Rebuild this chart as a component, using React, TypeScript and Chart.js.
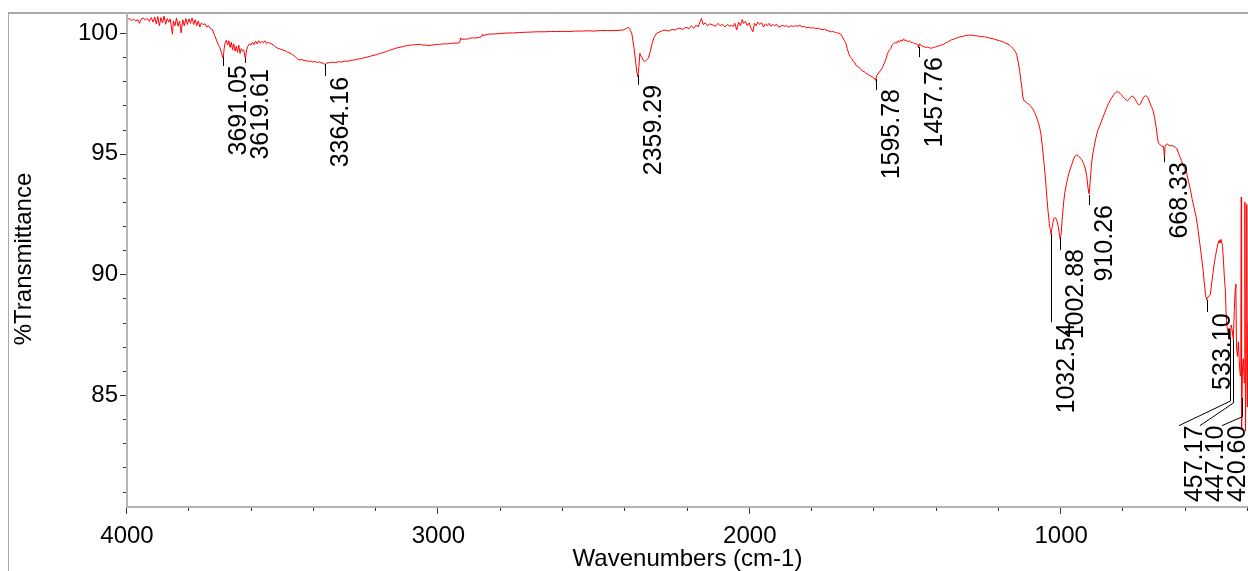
import React, { useEffect, useRef } from "react";
import { Chart, registerables } from "chart.js";

Chart.register(...registerables);

// [wavenumber (cm-1), %Transmittance]
const spectrum: [number, number][] = [
  [4000, 100.55], [3993, 100.6], [3986, 100.52], [3979, 100.57], [3972, 100.5], [3965, 100.55],
  [3960, 100.4], [3955, 100.56], [3948, 100.62], [3941, 100.55], [3934, 100.6], [3928, 100.48],
  [3922, 100.64], [3916, 100.45], [3911, 100.66], [3906, 100.38], [3901, 100.68], [3896, 100.3],
  [3891, 100.64], [3886, 100.42], [3881, 100.7], [3876, 100.36], [3871, 100.6], [3866, 100.45],
  [3861, 100.58], [3857, 100.2], [3854, 99.95], [3851, 100.5], [3846, 100.3], [3841, 100.62],
  [3836, 100.28], [3831, 100.5], [3826, 100.0], [3821, 100.55], [3816, 100.3], [3811, 100.6],
  [3806, 100.35], [3801, 100.58], [3796, 100.4], [3791, 100.62], [3786, 100.35], [3781, 100.55],
  [3776, 100.3], [3771, 100.5], [3766, 100.25], [3761, 100.42], [3756, 100.35], [3750, 100.38],
  [3744, 100.25], [3738, 100.3], [3732, 100.18], [3726, 100.15], [3720, 99.95], [3714, 99.75],
  [3708, 99.55], [3702, 99.4], [3697, 99.2], [3694, 99.05], [3691, 98.96], [3688, 99.35],
  [3685, 99.58], [3681, 99.7], [3677, 99.5], [3673, 99.68], [3669, 99.4], [3665, 99.62],
  [3661, 99.3], [3657, 99.55], [3653, 99.25], [3649, 99.45], [3645, 99.2], [3641, 99.5],
  [3637, 99.15], [3633, 99.35], [3629, 99.25], [3625, 99.3], [3622, 99.05], [3619.6, 98.93],
  [3616, 99.3], [3612, 99.45], [3607, 99.55], [3602, 99.5], [3597, 99.62], [3592, 99.52],
  [3587, 99.66], [3582, 99.55], [3577, 99.68], [3572, 99.58], [3567, 99.65], [3562, 99.6],
  [3557, 99.68], [3552, 99.56], [3547, 99.62], [3542, 99.58], [3537, 99.55], [3530, 99.5],
  [3522, 99.42], [3515, 99.36], [3508, 99.33], [3500, 99.3], [3492, 99.26], [3484, 99.2],
  [3476, 99.16], [3468, 99.1], [3460, 99.02], [3452, 98.92], [3445, 98.88], [3438, 98.9],
  [3431, 98.85], [3424, 98.86], [3417, 98.82], [3410, 98.84], [3403, 98.8], [3396, 98.82],
  [3389, 98.78], [3382, 98.8], [3375, 98.75], [3369, 98.76], [3364, 98.68], [3358, 98.76],
  [3350, 98.77], [3340, 98.79], [3330, 98.78], [3320, 98.81], [3310, 98.8], [3300, 98.84],
  [3290, 98.83], [3280, 98.87], [3270, 98.88], [3260, 98.92], [3250, 98.93], [3240, 98.97],
  [3230, 99.0], [3220, 99.03], [3210, 99.07], [3200, 99.1], [3190, 99.14], [3180, 99.18],
  [3170, 99.22], [3160, 99.27], [3150, 99.31], [3140, 99.36], [3130, 99.39], [3120, 99.42],
  [3110, 99.45], [3100, 99.48], [3090, 99.5], [3080, 99.51], [3070, 99.52], [3060, 99.53],
  [3050, 99.5], [3040, 99.5], [3030, 99.48], [3020, 99.5], [3010, 99.52], [3000, 99.53],
  [2990, 99.54], [2980, 99.55], [2970, 99.55], [2960, 99.57], [2950, 99.58], [2940, 99.58],
  [2932, 99.6], [2928, 99.8], [2924, 99.72], [2918, 99.75], [2910, 99.74], [2900, 99.78],
  [2890, 99.8], [2880, 99.79], [2870, 99.82], [2862, 99.84], [2858, 99.95], [2854, 99.88],
  [2850, 99.92], [2840, 99.95], [2820, 99.96], [2800, 99.98], [2780, 100.0], [2760, 100.0],
  [2740, 100.02], [2720, 100.03], [2700, 100.04], [2680, 100.05], [2660, 100.05], [2640, 100.06],
  [2620, 100.06], [2600, 100.07], [2580, 100.06], [2560, 100.08], [2540, 100.08], [2520, 100.09],
  [2500, 100.08], [2480, 100.1], [2460, 100.1], [2440, 100.1], [2420, 100.11], [2405, 100.13],
  [2395, 100.2], [2390, 100.24], [2385, 100.15], [2379, 99.99], [2372, 99.4], [2366, 98.75],
  [2363, 98.4], [2359.3, 98.19], [2356, 98.6], [2353, 99.16], [2350, 99.05], [2347, 99.0],
  [2342, 98.88], [2337, 98.81], [2332, 98.88], [2326, 98.95], [2320, 99.2], [2315, 99.5],
  [2308, 99.8], [2299, 99.99], [2290, 100.04], [2280, 100.1], [2270, 100.12], [2260, 100.08],
  [2250, 100.15], [2240, 100.12], [2230, 100.2], [2224, 100.19], [2215, 100.15], [2205, 100.24],
  [2195, 100.18], [2188, 100.3], [2180, 100.2], [2172, 100.33], [2166, 100.25], [2160, 100.45],
  [2155, 100.6], [2150, 100.35], [2143, 100.42], [2136, 100.3], [2128, 100.38], [2118, 100.33],
  [2110, 100.28], [2102, 100.4], [2095, 100.3], [2088, 100.36], [2080, 100.25], [2072, 100.35],
  [2064, 100.28], [2058, 100.32], [2054, 100.26], [2048, 100.4], [2042, 100.12], [2036, 100.45],
  [2030, 100.3], [2024, 100.56], [2020, 100.4], [2014, 100.48], [2008, 100.3], [2002, 100.42],
  [1996, 100.2], [1990, 100.05], [1985, 100.4], [1980, 100.3], [1974, 100.45], [1968, 100.35],
  [1962, 100.43], [1956, 100.25], [1950, 100.38], [1944, 100.3], [1938, 100.4], [1932, 100.28],
  [1926, 100.35], [1920, 100.3], [1914, 100.36], [1908, 100.25], [1903, 100.26], [1896, 100.32],
  [1889, 100.28], [1882, 100.3], [1875, 100.24], [1868, 100.3], [1860, 100.27], [1852, 100.3],
  [1845, 100.28], [1839, 100.33], [1832, 100.25], [1825, 100.27], [1818, 100.22], [1810, 100.24],
  [1802, 100.2], [1795, 100.22], [1788, 100.18], [1780, 100.2], [1775, 100.17], [1768, 100.14],
  [1760, 100.16], [1752, 100.1], [1745, 100.08], [1738, 100.05], [1732, 100.06], [1725, 100.02],
  [1718, 100.0], [1710, 99.98], [1703, 99.85], [1697, 99.7], [1692, 99.6], [1687, 99.35],
  [1682, 99.15], [1678, 99.02], [1673, 98.95], [1668, 98.82], [1663, 98.78], [1658, 98.65],
  [1653, 98.62], [1648, 98.55], [1643, 98.5], [1638, 98.42], [1633, 98.4], [1628, 98.35],
  [1622, 98.3], [1617, 98.25], [1612, 98.22], [1606, 98.17], [1601, 98.12], [1598, 98.1],
  [1595.8, 98.03], [1592, 98.25], [1588, 98.3], [1582, 98.42], [1577, 98.5], [1572, 98.62],
  [1567, 98.78], [1563, 98.9], [1559, 99.1], [1555, 99.22], [1551, 99.3], [1547, 99.35],
  [1543, 99.5], [1539, 99.55], [1534, 99.6], [1529, 99.58], [1524, 99.68], [1519, 99.62],
  [1514, 99.72], [1510, 99.66], [1506, 99.76], [1502, 99.68], [1497, 99.7], [1492, 99.64],
  [1487, 99.68], [1482, 99.6], [1477, 99.62], [1472, 99.55], [1467, 99.56], [1462, 99.52],
  [1459.5, 99.5], [1457.8, 99.38], [1455.5, 99.55], [1450, 99.5], [1445, 99.45], [1440, 99.43],
  [1434, 99.4], [1428, 99.42], [1422, 99.38], [1416, 99.37], [1410, 99.4], [1404, 99.42],
  [1398, 99.45], [1392, 99.47], [1386, 99.5], [1379, 99.52], [1372, 99.58], [1365, 99.62],
  [1358, 99.68], [1352, 99.72], [1346, 99.74], [1338, 99.78], [1330, 99.82], [1322, 99.85],
  [1314, 99.87], [1306, 99.9], [1298, 99.91], [1293, 99.92], [1286, 99.9], [1278, 99.89],
  [1270, 99.88], [1262, 99.86], [1254, 99.85], [1246, 99.84], [1239, 99.82], [1230, 99.79],
  [1222, 99.77], [1214, 99.74], [1206, 99.71], [1198, 99.68], [1190, 99.65], [1182, 99.6],
  [1174, 99.56], [1166, 99.5], [1160, 99.43], [1154, 99.35], [1148, 99.25], [1143, 99.12],
  [1138, 98.8], [1133, 98.4], [1129, 98.0], [1126, 97.7], [1123, 97.35], [1120, 97.2],
  [1116, 97.18], [1112, 97.12], [1108, 97.08], [1104, 97.05], [1100, 97.0], [1095, 96.92],
  [1090, 96.82], [1085, 96.7], [1080, 96.55], [1075, 96.35], [1070, 96.15], [1065, 95.8],
  [1060, 95.25], [1055, 94.6], [1050, 93.9], [1046, 93.2], [1042, 92.6], [1038, 92.1],
  [1035, 91.85], [1032.5, 91.67], [1029, 91.95], [1025, 92.25], [1021, 92.35], [1017, 92.32],
  [1013, 92.2], [1009, 91.95], [1005, 91.6], [1002.9, 91.45], [1000, 91.7], [996, 92.4],
  [992, 93.0], [988, 93.4], [983, 93.75], [978, 94.05], [972, 94.32], [966, 94.55],
  [960, 94.78], [955, 94.9], [950, 94.95], [945, 94.9], [940, 94.85], [934, 94.75],
  [928, 94.6], [923, 94.4], [918, 94.1], [914, 93.6], [910.3, 93.33], [907, 93.8],
  [903, 94.5], [899, 94.95], [894, 95.3], [889, 95.62], [884, 95.9], [878, 96.1],
  [872, 96.3], [866, 96.5], [860, 96.7], [854, 96.9], [848, 97.08], [843, 97.2],
  [837, 97.33], [831, 97.45], [826, 97.52], [821, 97.57], [816, 97.55], [811, 97.5],
  [806, 97.43], [801, 97.35], [796, 97.28], [791, 97.22], [787, 97.2], [782, 97.25],
  [777, 97.33], [772, 97.39], [767, 97.35], [762, 97.25], [757, 97.12], [752, 97.04],
  [748, 97.02], [744, 97.1], [739, 97.25], [734, 97.36], [729, 97.4], [725, 97.38],
  [720, 97.28], [715, 97.1], [710, 96.95], [705, 96.8], [700, 96.5], [695, 96.1],
  [691, 95.7], [688, 95.45], [684, 95.38], [680, 95.35], [676, 95.3], [673, 95.32],
  [670.5, 95.2], [668.3, 94.82], [666.5, 95.3], [663, 95.38], [659, 95.4], [654, 95.35],
  [649, 95.32], [644, 95.35], [639, 95.3], [634, 95.28], [629, 95.22], [624, 95.05],
  [619, 94.88], [614, 94.72], [609, 94.55], [603, 94.38], [597, 94.19], [591, 93.85],
  [585, 93.5], [579, 93.1], [573, 92.75], [567, 92.4], [562, 92.0], [557, 91.5],
  [552, 91.0], [548, 90.6], [544, 90.15], [540, 89.6], [536.5, 89.2], [533.1, 88.94],
  [529, 89.05], [525, 89.1], [521, 89.15], [517, 89.6], [513, 90.0], [509, 90.4],
  [505, 90.7], [501, 91.0], [497, 91.25], [493, 91.4], [490, 91.3], [487.5, 91.45],
  [485, 91.38], [482, 91.2], [479, 90.6], [476, 89.9], [473, 89.4], [470, 88.3],
  [467, 87.8], [464, 87.6], [461, 87.7], [457.2, 87.4], [454, 87.9], [451, 87.7],
  [447.1, 87.3], [444, 88.5], [441, 89.4], [439, 89.6], [437, 87.0], [434, 86.6],
  [431, 87.2], [428, 86.4], [425, 85.8], [423, 87.0], [421.5, 93.2], [420.6, 83.6],
  [418, 86.0], [415, 86.5], [412, 85.5], [410, 93.0], [408, 83.5], [406, 86.0],
  [404, 92.9], [402, 84.5], [400, 88.0],
];

const xRange = [400, 4000];
const yRange = [80.4, 100.87];
const xMajorTicks = [1000, 2000, 3000, 4000];
const yMajorTicks = [85, 90, 95, 100];
const xMinorStep = 200;
const yMinorStep = 1;

// peak annotations
const peakLabels = ["3691.05", "3619.61", "3364.16", "2359.29", "1595.78", "1457.76", "1032.54", "1002.88", "910.26", "668.33", "533.10", "457.17", "447.10", "420.60"];
const peakWn = [3691.05, 3619.61, 3364.16, 2359.29, 1595.78, 1457.76, 1032.54, 1002.88, 910.26, 668.33, 533.1, 457.17, 447.1, 420.6];
const peakT = [99.01, 98.95, 98.72, 98.26, 98.09, 99.42, 91.67, 91.51, 93.29, 94.86, 88.94, 87.4, 87.3, 84.88];
const tickEndT = [98.63, 98.76, 98.22, 97.85, 97.64, 99.0, 88.02, 91.01, 92.87, 94.65, 88.44, 84.75, 84.67, 84.1];
const labelWn = [3691.05, 3619.61, 3364.16, 2359.29, 1595.78, 1457.76, 1032.54, 1002.88, 910.26, 668.33, 533.1, 621.6, 554.2, 483.5];
const labelT = [98.67, 98.5, 98.18, 97.85, 97.68, 99.0, 87.98, 91.05, 92.87, 94.65, 88.38, 83.73, 83.73, 83.73];

const FONT = '"Liberation Sans", Arial, Helvetica, sans-serif';

const decorPlugin = {
  id: "decor",
  afterDatasetsDraw(chart: any) {
    const ctx = chart.ctx as CanvasRenderingContext2D;
    const xs = chart.scales.x;
    const ys = chart.scales.y;
    ctx.save();
    ctx.strokeStyle = "#000";
    ctx.lineWidth = 1;
    peakLabels.forEach((lab, i) => {
      const px = Math.round(xs.getPixelForValue(peakWn[i])) + 0.5;
      const py0 = ys.getPixelForValue(peakT[i]);
      const py1 = ys.getPixelForValue(tickEndT[i]);
      const lx = xs.getPixelForValue(labelWn[i]);
      const ly = ys.getPixelForValue(labelT[i]);
      ctx.beginPath();
      ctx.moveTo(px, py0);
      ctx.lineTo(px, py1);
      if (labelWn[i] !== peakWn[i]) ctx.lineTo(lx, ly);
      ctx.stroke();
      ctx.save();
      ctx.translate(lx + 23, ly);
      ctx.rotate(-Math.PI / 2);
      ctx.font = `25px ${FONT}`;
      ctx.fillStyle = "#000";
      ctx.textAlign = "right";
      ctx.textBaseline = "alphabetic";
      ctx.fillText(lab, 0, 0);
      ctx.restore();
    });
    ctx.restore();
  },
  afterDraw(chart: any) {
    const ctx = chart.ctx as CanvasRenderingContext2D;
    const xs = chart.scales.x;
    const ys = chart.scales.y;
    const { left, right, top, bottom } = chart.chartArea;
    const H = chart.height;
    ctx.save();
    // outer frame
    ctx.strokeStyle = "#a8a8a8";
    ctx.lineWidth = 1;
    ctx.beginPath();
    ctx.moveTo(8.5, H);
    ctx.lineTo(8.5, top + 1);
    ctx.stroke();
    ctx.lineWidth = 2;
    ctx.beginPath();
    ctx.moveTo(8, top + 1);
    ctx.lineTo(right, top + 1);
    ctx.stroke();
    // axis lines
    ctx.strokeStyle = "#b4b4b4";
    ctx.beginPath();
    ctx.moveTo(left, top);
    ctx.lineTo(left, bottom + 1);
    ctx.lineTo(right, bottom + 1);
    ctx.stroke();
    // ticks
    ctx.strokeStyle = "#333";
    ctx.lineWidth = 1;
    ctx.beginPath();
    for (let v = Math.ceil(yRange[0]); v <= yRange[1]; v += yMinorStep) {
      const y = Math.round(ys.getPixelForValue(v)) + 0.5;
      const len = yMajorTicks.includes(v) ? 6 : 3;
      ctx.moveTo(left - 1, y);
      ctx.lineTo(left - 1 - len, y);
    }
    for (let v = xRange[0]; v <= xRange[1]; v += xMinorStep) {
      const x = Math.round(xs.getPixelForValue(v)) - 0.5;
      const len = xMajorTicks.includes(v) ? 6 : 3;
      ctx.moveTo(x, bottom + 2);
      ctx.lineTo(x, bottom + 2 + len);
    }
    ctx.stroke();
    ctx.restore();
  },
};

export default function App() {
  const ref = useRef<HTMLCanvasElement | null>(null);
  useEffect(() => {
    if (!ref.current) return;
    const chart = new Chart(ref.current, {
      type: "line",
      data: {
        datasets: [
          {
            data: spectrum.map(([x, y]) => ({ x, y })),
            borderColor: "#ff0000",
            borderWidth: 1,
            pointRadius: 0,
            tension: 0,
            fill: false,
          },
        ],
      },
      options: {
        animation: false,
        responsive: false,
        events: [],
        layout: { padding: { top: 12, left: 0, right: 0, bottom: 0 } },
        plugins: { legend: { display: false }, tooltip: { enabled: false } },
        scales: {
          x: {
            type: "linear",
            reverse: true,
            min: xRange[0],
            max: xRange[1],
            grid: { display: false, drawTicks: false },
            border: { display: false },
            afterBuildTicks: (s: any) => {
              s.ticks = xMajorTicks.map((v) => ({ value: v }));
            },
            afterFit: (s: any) => {
              s.height = 65;
              s.paddingLeft = 0;
              s.paddingRight = 0;
            },
            ticks: {
              autoSkip: false,
              maxRotation: 0,
              padding: 18,
              color: "#000",
              font: { family: FONT, size: 24, lineHeight: 1 },
              callback: (v: any) => String(v),
            },
            title: {
              display: true,
              text: "Wavenumbers (cm-1)",
              color: "#000",
              font: { family: FONT, size: 24, lineHeight: 1 },
              padding: { top: 0, bottom: 0 },
            },
          },
          y: {
            type: "linear",
            min: yRange[0],
            max: yRange[1],
            grid: { display: false, drawTicks: false },
            border: { display: false },
            afterBuildTicks: (s: any) => {
              s.ticks = yMajorTicks.map((v) => ({ value: v }));
            },
            afterFit: (s: any) => {
              s.width = 127;
              s.paddingTop = 0;
              s.paddingBottom = 0;
            },
            ticks: {
              padding: 9,
              color: "#000",
              font: { family: FONT, size: 24, lineHeight: 1 },
              callback: (v: any) => String(v),
            },
            title: {
              display: true,
              text: "%Transmittance",
              color: "#000",
              font: { family: FONT, size: 24, lineHeight: 1.2 },
              padding: { top: 10, bottom: 0 },
            },
          },
        },
      },
      plugins: [decorPlugin],
    });
    return () => chart.destroy();
  }, []);
  return (
    <div style={{ position: "fixed", left: 0, top: 0, width: 1248, height: 571, background: "#fff" }}>
      <canvas ref={ref} width={1248} height={571} style={{ display: "block" }} />
    </div>
  );
}
